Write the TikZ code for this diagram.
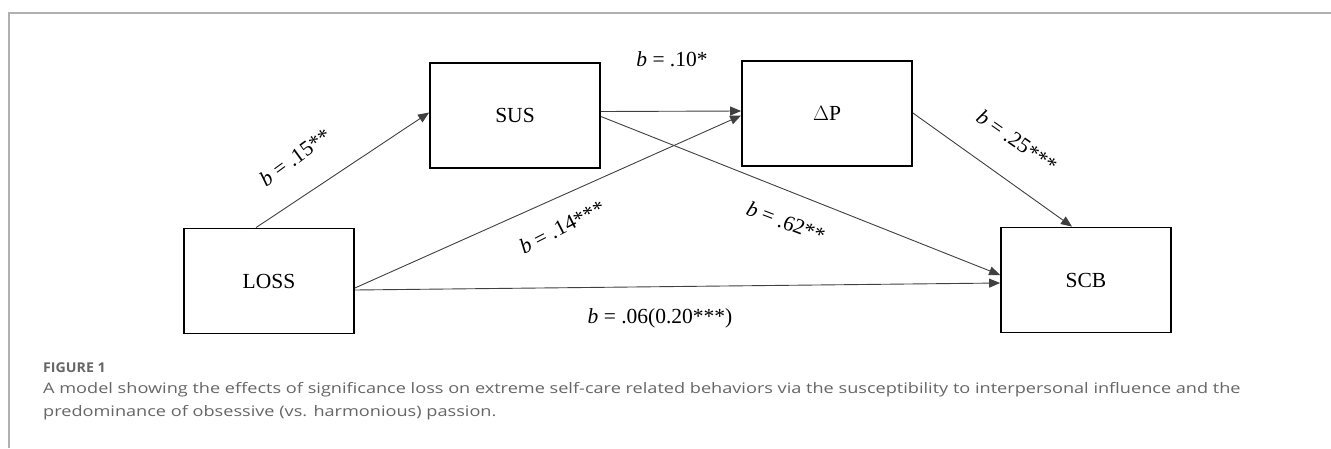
\documentclass[tikz,border=0pt]{standalone}
\usepackage{fontspec}
\setmainfont{Liberation Serif}
\newfontfamily\capfont[FakeStretch=1.25]{Open Sans}
\newfontfamily\figfont[FakeStretch=1.05]{Open Sans}
\usetikzlibrary{arrows.meta,calc}
\definecolor{framegray}{HTML}{B0B0B0}
\definecolor{capgray}{HTML}{666666}
\definecolor{linegray}{HTML}{404040}
\tikzset{
  varbox/.style={draw=black, line width=1.8pt, minimum width=170pt, minimum height=105pt, inner sep=0pt, font=\fontsize{21.5}{24}\selectfont},
  path/.style={draw=linegray, line width=0.9pt, -{Triangle[length=11pt,width=9pt]}},
  coef/.style={font=\fontsize{21.5}{24}\selectfont, inner sep=0pt},
  captext/.style={anchor=base west, inner sep=0pt, text=capgray},
}
\begin{document}
\begin{tikzpicture}[x=1pt,y=-1pt]
\useasboundingbox[fill=white] (0,0) rectangle (1331,448);
\draw[framegray, line width=1.2pt] (9,448) -- (9,13) -- (1331,13);

\node[varbox] (LOSS) at (269,281) {LOSS};
\node[varbox] (SUS) at (515,115.5) {SUS};
\node[varbox] (DP) at (827,113.5) {$\Delta$P};
\node[varbox] (SCB) at (1086,280) {SCB};

\draw[path] ([xshift=-13pt]LOSS.north) -- ([yshift=3pt]SUS.west);
\draw[path] ([yshift=4pt]SUS.east) -- ([yshift=2.5pt]DP.west);
\draw[path] ([yshift=-7pt]LOSS.east) -- ([yshift=-2pt]DP.west);
\draw[path] ([yshift=-1pt]SUS.east) -- ([yshift=5pt]SCB.west);
\draw[path] ([yshift=0.5pt]DP.east) -- ([xshift=-14pt]SCB.north);
\draw[path] ([yshift=-9pt]LOSS.east) -- ([yshift=-3pt]SCB.west);

\node[coef] (l10) at (672,59) {\textit{b} = .10*};
\node[coef, rotate=36] (l15) at (295,157) {\textit{b} = .15**};
\node[coef, rotate=27] (l14) at (562,227) {\textit{b} = .14***};
\node[coef, rotate=-21] (l62) at (786,222) {\textit{b} = .62**};
\node[coef, rotate=-35] (l25) at (1017,141) {\textit{b} = .25***};
\node[coef] (l06) at (660,318) {\textit{b} = .06(0.20***)};

\node[captext, font=\figfont\bfseries\fontsize{13.5}{15}\selectfont] (figlab) at (43,372) {FIGURE 1};
\node[captext, font=\capfont\fontsize{14.5}{17}\selectfont] (cap1) at (43,393) {A model showing the effects of significance loss on extreme self-care related behaviors via the susceptibility to interpersonal influence and the};
\node[captext, font=\capfont\fontsize{14.5}{17}\selectfont] (cap2) at (43,416) {predominance of obsessive (vs. harmonious) passion.};
\end{tikzpicture}
\end{document}
